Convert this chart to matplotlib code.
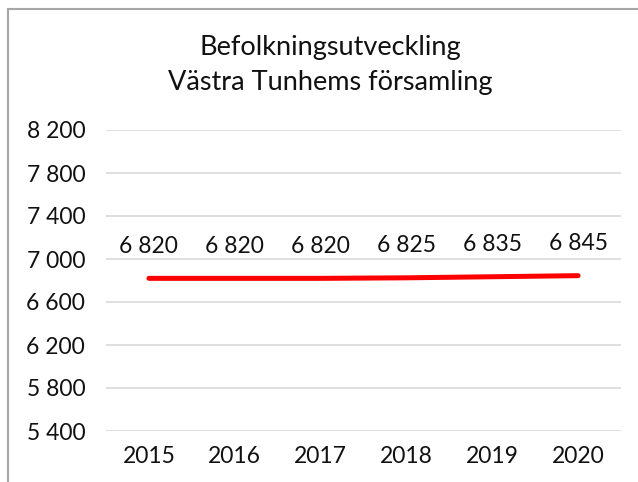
import matplotlib.pyplot as plt
from matplotlib.patches import Rectangle

# data
years = ["2015", "2016", "2017", "2018", "2019", "2020"]
population = [6820, 6820, 6820, 6825, 6835, 6845]
y_ticks = [5400, 5800, 6200, 6600, 7000, 7400, 7800, 8200]
title_lines = ["Befolkningsutveckling", "Västra Tunhems församling"]


def sv_fmt(v):
    return f"{v:,}".replace(",", " ")


plt.rcParams['font.family'] = ['Lato', 'DejaVu Sans']

W, H = 638, 482
fig = plt.figure(figsize=(W / 100, H / 100), dpi=100)

# axes placed in pixel coordinates
left, right, top, bottom = 106, 621, 130, 431
ax = fig.add_axes([left / W, 1 - bottom / H, (right - left) / W, (bottom - top) / H])

x = list(range(len(years)))
ax.plot(x, population, color='#ff0000', linewidth=3.6, solid_capstyle='round', zorder=3)

for xi, v in zip(x, population):
    ax.annotate(sv_fmt(v), (xi, v), xytext=(0, 23), textcoords='offset points',
                ha='center', va='center', fontsize=16.5, color='#111111')

ax.set_xlim(-0.5, len(years) - 0.5)
ax.set_ylim(y_ticks[0], y_ticks[-1])
ax.set_yticks(y_ticks)
ax.set_yticklabels([sv_fmt(t) for t in y_ticks])
ax.set_xticks(x)
ax.set_xticklabels(years)
ax.tick_params(axis='both', length=0, labelsize=16.5, colors='#111111')
ax.tick_params(axis='y', pad=15)
ax.tick_params(axis='x', pad=11)
ax.grid(axis='y', color='#d9d9d9', linewidth=1.2)
ax.set_axisbelow(True)
for s in ax.spines.values():
    s.set_visible(False)

# title
fig.text(330 / W, 1 - 47 / H, title_lines[0], ha='center', va='center', fontsize=19.5, color='#111111')
fig.text(330 / W, 1 - 82 / H, title_lines[1], ha='center', va='center', fontsize=19.5, color='#111111')

# chart-area border (cut off at right and bottom edges)
fig.patches.append(Rectangle((8 / W, -0.1), 1.2, 1 - 9 / H + 0.1, transform=fig.transFigure,
                             fill=False, edgecolor='#a6a6a6', linewidth=1.5))

fig.savefig('out.png', dpi=100)
